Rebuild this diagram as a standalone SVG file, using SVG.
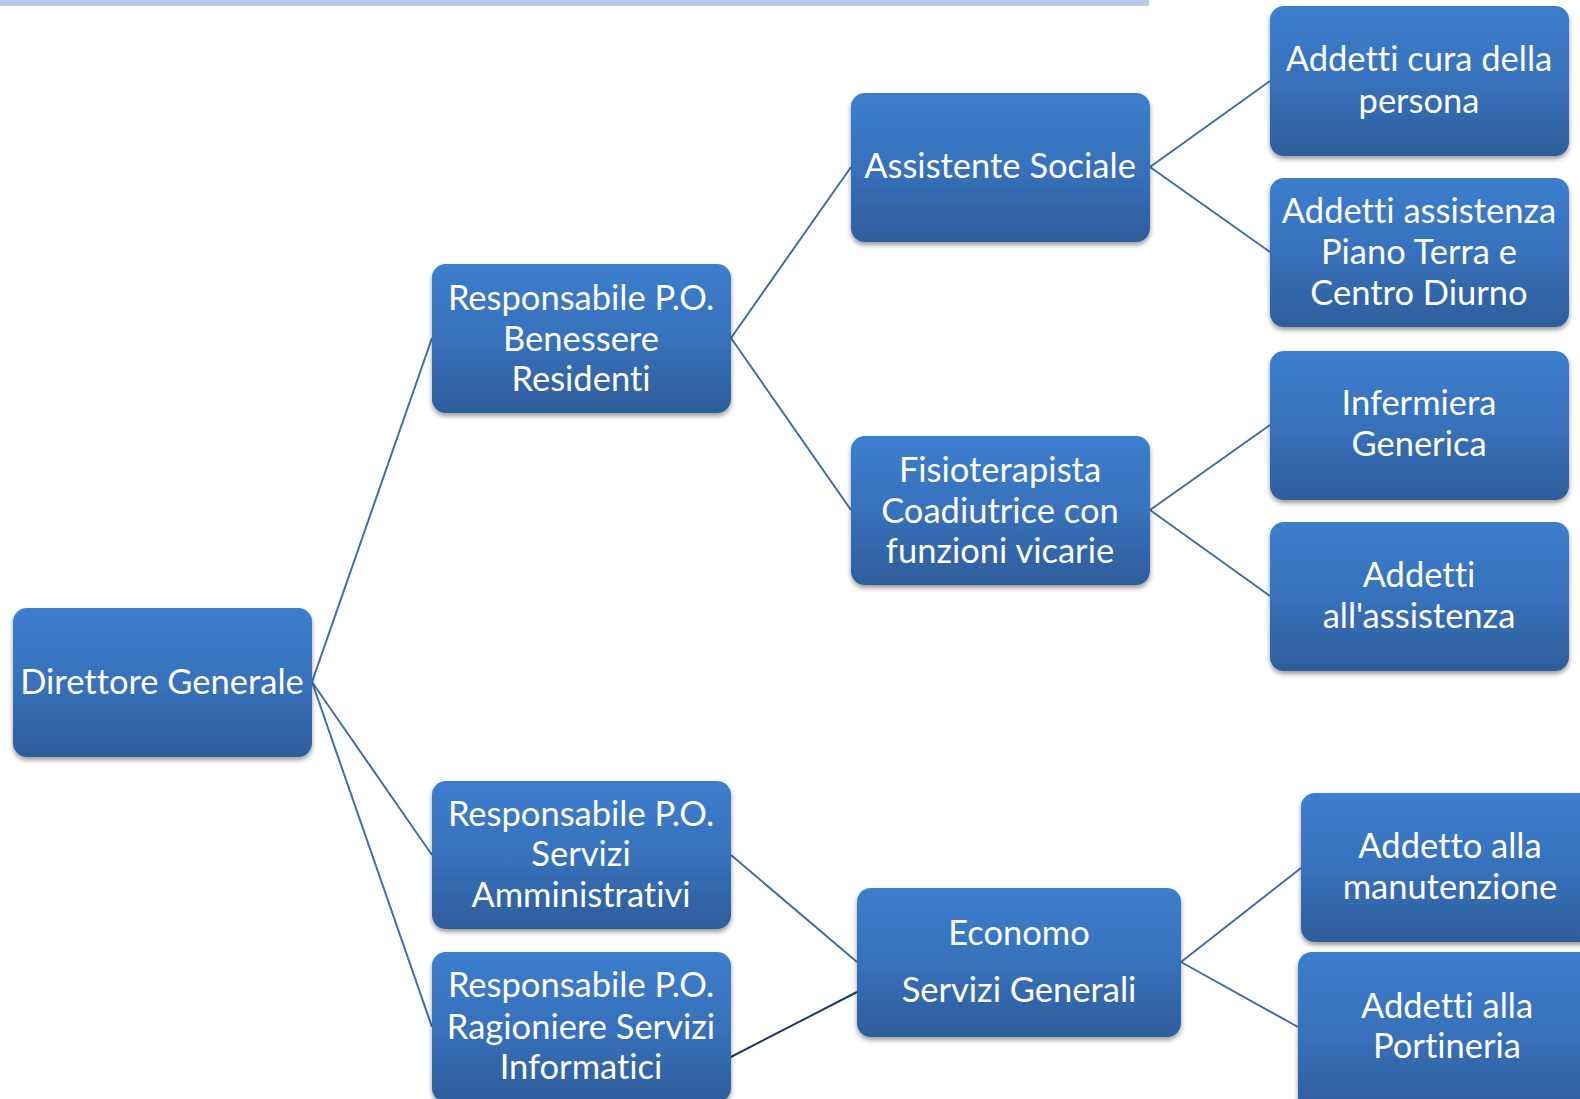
<svg xmlns="http://www.w3.org/2000/svg" width="1580" height="1099" viewBox="0 0 1580 1099">
<defs>
<linearGradient id="g" x1="0" y1="0" x2="0" y2="1">
<stop offset="0" stop-color="#3c7ecd"/>
<stop offset="0.5" stop-color="#3871bb"/>
<stop offset="1" stop-color="#2e5d9b"/>
</linearGradient>
<filter id="sh" x="-10%" y="-10%" width="120%" height="130%">
<feDropShadow dx="0" dy="3" stdDeviation="2.5" flood-color="#000" flood-opacity="0.4"/>
</filter>
</defs>
<style>
.n rect{fill:url(#g);filter:url(#sh)}
.n text{fill:#fff;font-family:Lato,"Open Sans","Liberation Sans",sans-serif;font-size:34.5px;text-anchor:middle;font-variant-ligatures:none}
.c line{stroke:#3f6ea8;stroke-width:2}
</style>
<rect x="0" y="0" width="1149" height="6" fill="#b7cce4"/>
<g class="c" id="connectors">
<line x1="312" y1="682" x2="432" y2="338"/>
<line x1="312" y1="682" x2="432" y2="855"/>
<line x1="312" y1="682" x2="432" y2="1027"/>
<line x1="731" y1="338" x2="851" y2="167"/>
<line x1="731" y1="338" x2="851" y2="510"/>
<line x1="1150" y1="167" x2="1270" y2="81"/>
<line x1="1150" y1="167" x2="1270" y2="252"/>
<line x1="1150" y1="510" x2="1270" y2="425"/>
<line x1="1150" y1="510" x2="1270" y2="596"/>
<line x1="731" y1="855" x2="857" y2="962"/>
<line x1="727" y1="1059" x2="857" y2="992" style="stroke:#1f3b63"/>
<line x1="1181" y1="962" x2="1301" y2="868"/>
<line x1="1181" y1="962" x2="1298" y2="1027"/>
</g>
<g class="n" id="direttore"><rect x="13" y="608" width="299" height="149" rx="14"/><text x="162" y="694">Direttore Generale</text></g>
<g class="n" id="resp-benessere"><rect x="432" y="264" width="299" height="149" rx="14"/><text x="581" y="310">Responsabile P.O.</text><text x="581" y="351">Benessere</text><text x="581" y="391">Residenti</text></g>
<g class="n" id="assistente"><rect x="851" y="93" width="299" height="149" rx="14"/><text x="1000" y="178">Assistente Sociale</text></g>
<g class="n" id="fisioterapista"><rect x="851" y="436" width="299" height="149" rx="14"/><text x="1000" y="482">Fisioterapista</text><text x="1000" y="523">Coadiutrice con</text><text x="1000" y="563">funzioni vicarie</text></g>
<g class="n" id="cura"><rect x="1270" y="6" width="299" height="150" rx="14"/><text x="1419" y="71">Addetti cura della</text><text x="1419" y="113">persona</text></g>
<g class="n" id="assistenza-piano"><rect x="1270" y="178" width="299" height="149" rx="14"/><text x="1419" y="223">Addetti assistenza</text><text x="1419" y="264">Piano Terra e</text><text x="1419" y="305">Centro Diurno</text></g>
<g class="n" id="infermiera"><rect x="1270" y="351" width="299" height="149" rx="14"/><text x="1419" y="415">Infermiera</text><text x="1419" y="456">Generica</text></g>
<g class="n" id="addetti-assistenza"><rect x="1270" y="522" width="299" height="149" rx="14"/><text x="1419" y="587">Addetti</text><text x="1419" y="628">all'assistenza</text></g>
<g class="n" id="resp-amm"><rect x="432" y="781" width="299" height="148" rx="14"/><text x="581" y="826">Responsabile P.O.</text><text x="581" y="866">Servizi</text><text x="581" y="907">Amministrativi</text></g>
<g class="n" id="resp-ragioniere"><rect x="432" y="952" width="299" height="150" rx="14"/><text x="581" y="997">Responsabile P.O.</text><text x="581" y="1039">Ragioniere Servizi</text><text x="581" y="1079">Informatici</text></g>
<g class="n" id="economo"><rect x="857" y="888" width="324" height="149" rx="14"/><text x="1019" y="945">Economo</text><text x="1019" y="1002">Servizi Generali</text></g>
<g class="n" id="manutenzione"><rect x="1301" y="793" width="299" height="149" rx="14"/><text x="1450" y="858">Addetto alla</text><text x="1450" y="899">manutenzione</text></g>
<g class="n" id="portineria"><rect x="1298" y="952" width="299" height="160" rx="14"/><text x="1447" y="1018">Addetti alla</text><text x="1447" y="1058">Portineria</text></g>
</svg>
